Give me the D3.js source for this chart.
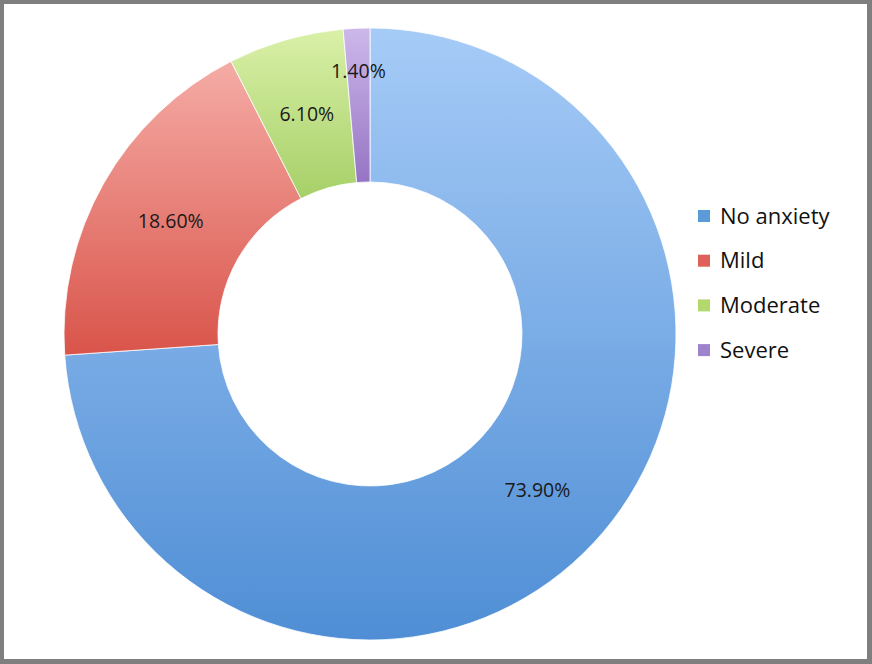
<!DOCTYPE html>
<html><head><meta charset="utf-8">
<script src="https://cdn.jsdelivr.net/npm/d3@7/dist/d3.min.js"></script>
<style>
html,body{margin:0;padding:0;background:#fff;}
svg{display:block;}
</style></head>
<body>
<svg id="chart" width="872" height="664"></svg>
<script>
const categories = ["No anxiety", "Mild", "Moderate", "Severe"];
const values = [73.9, 18.6, 6.1, 1.4];
const labels = ["73.90%", "18.60%", "6.10%", "1.40%"];
const colorsTop = ["#a6cbf7", "#f5aca6", "#daf0a8", "#cdb8ea"];
const colorsBottom = ["#4f8ed5", "#d9544a", "#a6d068", "#9674c4"];
const legendColors = ["#5b9bd5", "#e0605a", "#b2d86e", "#9e82cc"];

const svg = d3.select("#chart");
const W = 872, H = 664;

// frame
svg.append("rect").attr("x",0).attr("y",0).attr("width",W).attr("height",H).attr("fill","#7f7f7f");
svg.append("rect").attr("x",4).attr("y",4).attr("width",W-9).attr("height",H-9).attr("fill","#fff");

const defs = svg.append("defs");
categories.forEach((c,i)=>{
  const g = defs.append("linearGradient").attr("id","g"+i)
    .attr("x1",0).attr("y1",0).attr("x2",0).attr("y2",1);
  g.append("stop").attr("offset","0%").attr("stop-color",colorsTop[i]);
  g.append("stop").attr("offset","100%").attr("stop-color",colorsBottom[i]);
});

const cx = 370, cy = 334, rOuter = 306, rInner = 152;
const pie = d3.pie().sort(null).value(d=>d)(values);
const arc = d3.arc().innerRadius(rInner).outerRadius(rOuter);
const g = svg.append("g").attr("transform",`translate(${cx},${cy})`);

g.selectAll("path.slice").data(pie).enter().append("path")
  .attr("class","slice")
  .attr("d",arc)
  .attr("fill",(d,i)=>`url(#g${i})`)
  .attr("stroke","#ffffff").attr("stroke-width",0.8);

const labelArc = d3.arc().innerRadius(rInner).outerRadius(rOuter);
const outerLabelArc = d3.arc().innerRadius(263).outerRadius(263);
g.selectAll("text.lbl").data(pie).enter().append("text")
  .attr("class","lbl")
  .attr("transform",(d)=>{
    const small = (d.endAngle-d.startAngle) < 0.15;
    const p = small ? outerLabelArc.centroid(d) : labelArc.centroid(d);
    return `translate(${p[0]},${p[1]})`;
  })
  .attr("text-anchor","middle").attr("dy","0.35em")
  .attr("font-family","'Open Sans', sans-serif").attr("font-size",19.5)
  .attr("fill","#1a1a1a")
  .text((d,i)=>labels[i]);

// legend
const leg = svg.append("g").attr("transform","translate(698,216)");
categories.forEach((c,i)=>{
  const row = leg.append("g").attr("transform",`translate(0,${i*44.7})`);
  row.append("rect").attr("x",0).attr("y",-6).attr("width",12).attr("height",12)
    .attr("fill",legendColors[i]);
  row.append("text").attr("x",22).attr("y",0).attr("dy","0.35em")
    .attr("font-family","'Open Sans', sans-serif").attr("font-size",22)
    .attr("fill","#111").text(c);
});
</script>
</body></html>
